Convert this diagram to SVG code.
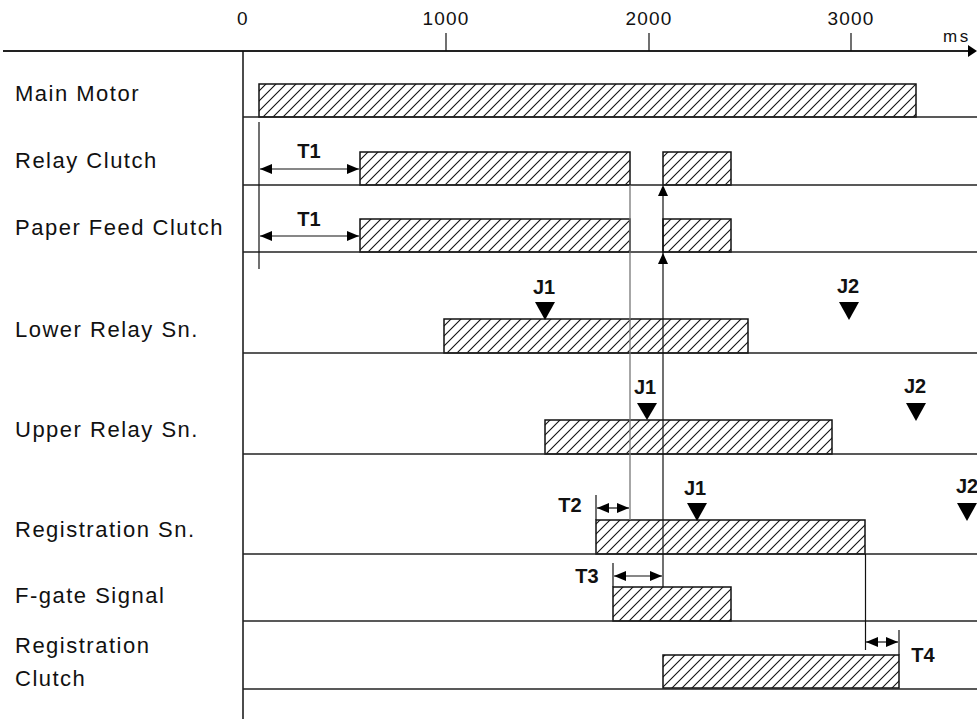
<svg xmlns="http://www.w3.org/2000/svg" width="977" height="721" viewBox="0 0 977 721">
<style>
.lbl{font-family:"Liberation Sans",Arial,sans-serif;font-size:22px;letter-spacing:1.5px;fill:#111}
.ax{font-family:"Liberation Sans",Arial,sans-serif;font-size:19px;letter-spacing:1.2px;fill:#111;text-anchor:middle}
.b{font-family:"Liberation Sans",Arial,sans-serif;font-size:20px;font-weight:bold;fill:#111;text-anchor:middle}
.bar{fill:url(#hatch);stroke:#111;stroke-width:1.5}
.base{stroke:#222;stroke-width:1.5;fill:none}
.thin{stroke:#111;stroke-width:1.2;fill:none}
.gray{stroke:#777;stroke-width:1.3;fill:none}
.tri{fill:#000}
</style>
<defs>
<pattern id="hatch" patternUnits="userSpaceOnUse" width="10" height="10">
<rect width="10" height="10" fill="#fff"/>
<path d="M-2,12 L12,-2 M-12,12 L2,-2 M8,12 L22,-2" stroke="#111" stroke-width="1.1"/>
</pattern>
<marker id="ah" viewBox="0 0 12 10" refX="12" refY="5" markerWidth="12" markerHeight="10" markerUnits="userSpaceOnUse" orient="auto-start-reverse">
<path d="M0,0 L12,5 L0,10 Z" fill="#000"/>
</marker>
</defs>

<g id="axis">
<line x1="3" y1="51" x2="970" y2="51" stroke="#222" stroke-width="2"/>
<path d="M968,45 L977,51 L968,57 Z" fill="#000"/>
<line x1="243" y1="51" x2="243" y2="719" stroke="#111" stroke-width="1.5"/>
<line x1="446" y1="33" x2="446" y2="51" class="thin"/>
<line x1="649" y1="33" x2="649" y2="51" class="thin"/>
<line x1="851" y1="33" x2="851" y2="51" class="thin"/>
<text x="243" y="25" class="ax">0</text>
<text x="446" y="25" class="ax">1000</text>
<text x="649" y="25" class="ax">2000</text>
<text x="851" y="25" class="ax">3000</text>
<text x="943" y="42" class="ax" style="text-anchor:start;font-size:17px;letter-spacing:2.5px">ms</text>
</g>

<g id="row-main-motor">
<text x="15" y="101" class="lbl">Main Motor</text>
<rect x="259" y="84" width="657" height="33" class="bar"/>
<line x1="243" y1="117" x2="977" y2="117" class="base"/>
</g>
<g id="row-relay-clutch">
<text x="15" y="168" class="lbl">Relay Clutch</text>
<rect x="360" y="152" width="270" height="33" class="bar"/>
<rect x="663" y="152" width="68" height="33" class="bar"/>
<line x1="243" y1="185" x2="977" y2="185" class="base"/>
</g>
<g id="row-paper-feed-clutch">
<text x="15" y="235" class="lbl">Paper Feed Clutch</text>
<rect x="360" y="219" width="270" height="33" class="bar"/>
<rect x="663" y="219" width="68" height="33" class="bar"/>
<line x1="243" y1="252" x2="977" y2="252" class="base"/>
</g>
<g id="row-lower-relay">
<text x="15" y="337" class="lbl">Lower Relay Sn.</text>
<rect x="444" y="319" width="304" height="34" class="bar"/>
<line x1="243" y1="353" x2="977" y2="353" class="base"/>
</g>
<g id="row-upper-relay">
<text x="15" y="437" class="lbl">Upper Relay Sn.</text>
<rect x="545" y="420" width="287" height="34" class="bar"/>
<line x1="243" y1="454" x2="977" y2="454" class="base"/>
</g>
<g id="row-registration-sn">
<text x="15" y="537" class="lbl">Registration Sn.</text>
<rect x="596" y="520" width="269" height="34" class="bar"/>
<line x1="243" y1="554" x2="977" y2="554" class="base"/>
</g>
<g id="row-fgate">
<text x="15" y="603" class="lbl">F-gate Signal</text>
<rect x="613" y="587" width="118" height="34" class="bar"/>
<line x1="243" y1="621" x2="977" y2="621" class="base"/>
</g>
<g id="row-registration-clutch">
<text x="15" y="653" class="lbl">Registration</text>
<text x="15" y="686" class="lbl">Clutch</text>
<rect x="663" y="655" width="236" height="33" class="bar"/>
<line x1="243" y1="689" x2="977" y2="689" class="base"/>
</g>

<g id="markers">
<text x="544" y="294" class="b">J1</text>
<path d="M535,302 L555,302 L545,320 Z" class="tri"/>
<text x="848" y="293" class="b">J2</text>
<path d="M839,302 L859,302 L849,320 Z" class="tri"/>
<text x="645" y="394" class="b">J1</text>
<path d="M637,403 L657,403 L647,420 Z" class="tri"/>
<text x="915" y="393" class="b">J2</text>
<path d="M906,403 L926,403 L916,421 Z" class="tri"/>
<text x="695" y="495" class="b">J1</text>
<path d="M687,503 L707,503 L697,521 Z" class="tri"/>
<text x="967" y="493" class="b">J2</text>
<path d="M957,503 L977,503 L967,521 Z" class="tri"/>
</g>

<g id="connectors">
<line x1="259" y1="122" x2="259" y2="269" class="thin"/>
<line x1="260" y1="169" x2="359" y2="169" class="thin" marker-start="url(#ah)" marker-end="url(#ah)"/>
<text x="309" y="158" class="b">T1</text>
<line x1="260" y1="236" x2="359" y2="236" class="thin" marker-start="url(#ah)" marker-end="url(#ah)"/>
<text x="309" y="226" class="b">T1</text>

<line x1="630" y1="185" x2="630" y2="520" class="gray"/>
<line x1="663" y1="195" x2="663" y2="587" class="thin"/>
<path d="M663,185 L668,196 L658,196 Z" class="tri"/>
<path d="M663,253 L668,264 L658,264 Z" class="tri"/>

<line x1="596" y1="495" x2="596" y2="520" class="thin"/>
<line x1="597" y1="508" x2="629" y2="508" class="thin" marker-start="url(#ah)" marker-end="url(#ah)"/>
<text x="570" y="512" class="b">T2</text>

<line x1="613" y1="563" x2="613" y2="587" class="thin"/>
<line x1="614" y1="576" x2="662" y2="576" class="thin" marker-start="url(#ah)" marker-end="url(#ah)"/>
<text x="587" y="583" class="b">T3</text>

<line x1="865.5" y1="554" x2="865.5" y2="650" class="thin"/>
<line x1="899" y1="630" x2="899" y2="655" class="thin"/>
<line x1="866" y1="642" x2="898" y2="642" class="thin" marker-start="url(#ah)" marker-end="url(#ah)"/>
<text x="923" y="662" class="b">T4</text>
</g>
</svg>
